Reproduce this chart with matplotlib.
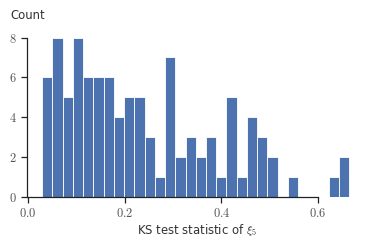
import matplotlib

matplotlib.use('Agg')

import matplotlib.pyplot as plt
import numpy as np
from matplotlib.ticker import FuncFormatter

# histogram of the KS statistic, 30 bins between min and max
bin_start = 0.029
bin_end = 0.665
counts = [6, 8, 5, 8, 6, 6, 6, 4, 5, 5, 3, 1, 7, 2, 3,
          2, 3, 1, 5, 1, 4, 3, 2, 0, 1, 0, 0, 0, 1, 2]
x_ticks = [0.0, 0.2, 0.4, 0.6]
y_ticks = [0, 2, 4, 6, 8]

plt.rcParams['mathtext.fontset'] = 'cm'
plt.rcParams['font.family'] = ['DejaVu Sans']

edges = np.linspace(bin_start, bin_end, len(counts) + 1)
widths = np.diff(edges)

fig = plt.figure(figsize=(3.74, 2.45), dpi=100)
ax = fig.add_axes([0.0714, 0.196, 0.908, 0.667])

ax.bar(edges[:-1], counts, width=widths, align='edge',
       color='#4c72b0', edgecolor='white', linewidth=0.6)

ax.set_xlim(-0.003, 0.7)
ax.set_ylim(0, 8.2)
ax.set_xticks(x_ticks)
ax.set_yticks(y_ticks)
ax.xaxis.set_major_formatter(FuncFormatter(lambda v, p: r'$%.1f$' % v))
ax.yaxis.set_major_formatter(FuncFormatter(lambda v, p: r'$%d$' % v))

for side in ['top', 'right']:
    ax.spines[side].set_visible(False)
ax.spines['left'].set_bounds(0, 8)
ax.spines['bottom'].set_bounds(0, 0.6)
for side in ['left', 'bottom']:
    ax.spines[side].set_linewidth(0.9)
    ax.spines[side].set_color('#222222')

ax.tick_params(direction='out', length=4, width=0.9, color='#222222',
               labelsize=9, labelcolor='#555555', pad=3)

ax.set_xlabel(r'KS test statistic of $\xi_5$', fontsize=8.4, color='#333333',
              labelpad=2)
fig.text(0.029, 0.935, 'Count', fontsize=8.4, color='#333333',
         ha='left', va='center')

fig.savefig('out.png', dpi=100)
